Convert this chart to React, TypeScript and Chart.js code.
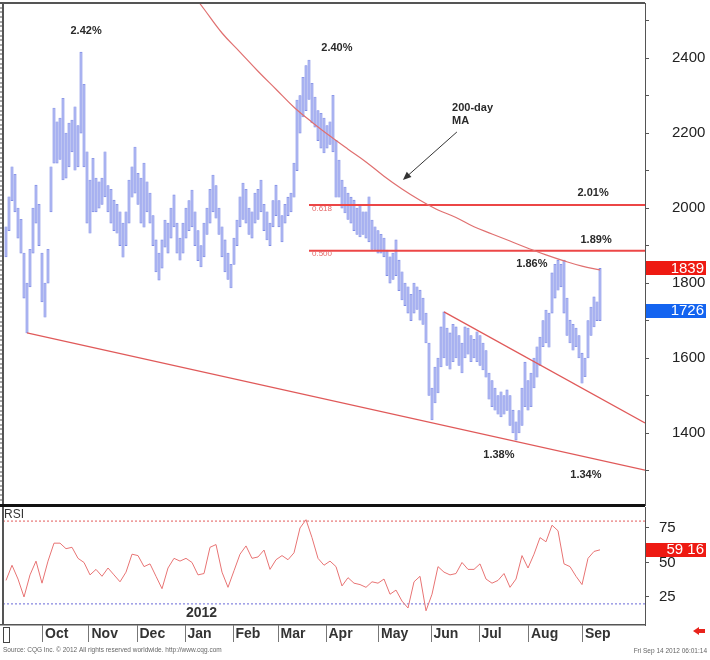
import React, { useEffect, useRef } from 'react';
import { Chart, registerables } from 'chart.js';

Chart.register(...registerables);
Chart.defaults.font.family = "'Liberation Sans', Arial, sans-serif";

// ---- daily price bars (session index 0..198) ----
const highs = [
  1950, 2030, 2110, 2090, 2000, 1970, 1880, 1800, 1890, 2000,
  2061, 2010, 1880, 1800, 1890, 2110, 2267, 2230, 2240, 2293,
  2200, 2227, 2235, 2270, 2220, 2416, 2330, 2150, 2075, 2133,
  2080, 2070, 2080, 2150, 2060, 2050, 2021, 2010, 1990, 1960,
  1990, 2075, 2110, 2163, 2093, 2080, 2120, 2070, 2040, 1980,
  1915, 1880, 1915, 1968, 1960, 2000, 2035, 1960, 1920, 1960,
  2000, 2020, 2048, 1990, 1940, 1900, 1960, 2000, 2050, 2088,
  2060, 2000, 1950, 1915, 1880, 1850, 1920, 1968, 2030, 2067,
  2050, 2000, 1990, 2040, 2050, 2075, 2010, 1990, 1960, 2020,
  2061, 2020, 1980, 2010, 2029, 2040, 2120, 2288, 2300, 2349,
  2380, 2395, 2333, 2296, 2260, 2253, 2240, 2220, 2230, 2301,
  2181, 2128, 2075, 2056, 2040, 2029, 2021, 2000, 2010, 1990,
  1990, 2030, 1968, 1950, 1940, 1930, 1920, 1888, 1870, 1880,
  1915, 1861, 1830, 1800, 1790, 1770, 1800, 1790, 1781, 1760,
  1720, 1640, 1520, 1576, 1600, 1683, 1723, 1680, 1667, 1690,
  1683, 1660, 1640, 1683, 1680, 1660, 1650, 1670, 1660, 1640,
  1620, 1560, 1540, 1520, 1500, 1510, 1500, 1515, 1500, 1461,
  1430, 1460, 1520, 1589, 1540, 1560, 1600, 1630, 1656, 1700,
  1728, 1720, 1827, 1850, 1861, 1850, 1861, 1760, 1701, 1690,
  1680, 1660, 1613, 1600, 1700, 1736, 1763, 1750, 1839,
];
const lows = [
  1870, 1940, 2020, 1990, 1920, 1880, 1760, 1667, 1790, 1880,
  1960, 1900, 1750, 1709, 1800, 1990, 2120, 2120, 2130, 2075,
  2080, 2110, 2150, 2101, 2110, 2200, 2110, 1960, 1933, 1990,
  1990, 2000, 2010, 2030, 1990, 1960, 1940, 1933, 1900, 1869,
  1900, 1960, 2029, 2040, 2010, 1960, 1949, 1990, 1960, 1900,
  1830, 1808, 1840, 1896, 1880, 1920, 1950, 1880, 1861, 1880,
  1920, 1940, 1950, 1900, 1860, 1843, 1870, 1930, 1960, 1990,
  1973, 1930, 1870, 1830, 1810, 1787, 1850, 1900, 1950, 1970,
  1960, 1930, 1920, 1960, 1970, 1990, 1940, 1915, 1900, 1950,
  1980, 1950, 1910, 1960, 1980, 1990, 2029, 2100, 2200, 2243,
  2260, 2290, 2227, 2216, 2180, 2160, 2147, 2160, 2170, 2150,
  2029, 2029, 2000, 1987, 1970, 1960, 1940, 1930, 1923, 1930,
  1920, 1910, 1890, 1890, 1880, 1880, 1870, 1820, 1800, 1810,
  1820, 1780, 1755, 1740, 1720, 1700, 1720, 1730, 1701, 1690,
  1640, 1500, 1435, 1480, 1507, 1576, 1600, 1580, 1570, 1590,
  1600, 1580, 1560, 1600, 1610, 1590, 1600, 1590, 1580, 1568,
  1549, 1490, 1470, 1461, 1450, 1443, 1450, 1460, 1420, 1400,
  1381, 1400, 1420, 1470, 1461, 1470, 1520, 1549, 1580, 1630,
  1640, 1629, 1720, 1760, 1781, 1790, 1720, 1660, 1640, 1621,
  1630, 1600, 1533, 1550, 1600, 1660, 1683, 1700, 1700,
];

// ---- 200-day moving average (read every 6 sessions) ----
const maDays = [60, 66, 72, 78, 84, 90, 96, 102, 108, 114, 120, 126, 132, 138, 144, 150, 156, 162, 168, 174, 180, 186, 192, 198];
const maValues = [2595, 2531, 2467, 2416, 2365, 2317, 2269, 2229, 2192, 2157, 2123, 2085, 2051, 2021, 1995, 1975, 1950, 1931, 1912, 1893, 1875, 1859, 1845, 1835];

// ---- trend lines and retracement levels ----
const lowerTrendDays = [7, 213];
const lowerTrendValues = [1667, 1301];
const upperTrendDays = [146, 213];
const upperTrendValues = [1723, 1427];
const fibDays = [101, 213];
const fib618 = 2008;
const fib500 = 1886;

// ---- RSI (every 2nd session) ----
const rsiValues = [
  37, 48, 38, 25, 41, 51, 35, 51, 64, 64,
  60, 61, 53, 50, 41, 45, 40, 46, 41, 36,
  43, 56, 55, 47, 49, 40, 31, 46, 53, 51,
  53, 50, 41, 42, 61, 63, 43, 32, 44, 56,
  62, 53, 54, 59, 45, 52, 55, 52, 57, 75,
  81, 68, 53, 48, 51, 47, 33, 39, 35, 34,
  32, 36, 35, 38, 27, 30, 22, 17, 36, 40,
  15, 27, 47, 43, 41, 42, 50, 45, 45, 49,
  38, 35, 37, 42, 32, 38, 55, 46, 56, 68,
  65, 77, 73, 49, 47, 40, 34, 53, 58, 59.16,
];
const rsiUpper = 80;
const rsiLower = 20;

// ---- axes ----
const dayMin = -1;
const dayMax = 213;
const priceMin = 1208;
const priceMax = 2547;
const rsiMin = 4.7;
const rsiMax = 90.2;
const monthLabels = ['Oct', 'Nov', 'Dec', 'Jan', 'Feb', 'Mar', 'Apr', 'May', 'Jun', 'Jul', 'Aug', 'Sep'];
const monthStarts = [12, 27.5, 43.5, 59.5, 75.5, 90.5, 106.5, 124, 141.5, 157.5, 174, 192];
const yearLabel = '2012';

// ---- annotations ----
const annoTexts = ['2.42%', '2.40%', '2.01%', '1.89%', '1.86%', '1.38%', '1.34%'];
const annoDays = [26.7, 110.3, 195.7, 196.7, 175.3, 164.3, 193.3];
const annoPrices = [2472, 2427, 2040, 1915, 1851, 1341, 1288];
const maNoteLines = ['200-day', 'MA'];
const maNoteDay = 148.7;
const maNotePrices = [2267, 2232];
const arrowFrom = { day: 150.3, price: 2203 };
const arrowTo = { day: 132.3, price: 2075 };
const fibTexts = ['0.618', '0.500'];
const fibTextDay = 102;
const fibTextPrices = [1997, 1877];

const lastHigh = 1839;
const lastClose = 1726;
const lastRsi = 59.16;
const lastHighText = '1839';
const lastCloseText = '1726';
const lastRsiText = '59 16';
const sourceText = 'Source: CQG Inc. \u00a9 2012 All rights reserved worldwide. http://www.cqg.com';
const stampText = 'Fri Sep 14 2012 06:01:14';

const FONT = "'Liberation Sans', Arial, sans-serif";

function drawFlag(ctx: CanvasRenderingContext2D, left: number, right: number, yc: number, color: string, text: string) {
  ctx.fillStyle = color;
  ctx.fillRect(left, Math.round(yc - 7), right - left, 14);
  ctx.fillStyle = '#ffffff';
  ctx.font = `15px ${FONT}`;
  ctx.textAlign = 'right';
  ctx.textBaseline = 'middle';
  ctx.fillText(text, right - 2, yc + 0.5);
}

const noAxisPadding = (s: any) => {
  s.width = 65;
  s.paddingTop = 0;
  s.paddingBottom = 0;
};

const priceOverlay = {
  id: 'priceOverlay',
  afterDatasetsDraw(chart: any) {
    const { ctx, scales } = chart;
    const x = scales.x;
    const y = scales.y;
    ctx.save();
    ctx.fillStyle = '#2a2a2a';
    ctx.font = `bold 11px ${FONT}`;
    ctx.textAlign = 'center';
    ctx.textBaseline = 'middle';
    annoTexts.forEach((t, k) => {
      ctx.fillText(t, x.getPixelForValue(annoDays[k]), y.getPixelForValue(annoPrices[k]));
    });
    ctx.textAlign = 'left';
    maNoteLines.forEach((t, k) => {
      ctx.fillText(t, x.getPixelForValue(maNoteDay), y.getPixelForValue(maNotePrices[k]));
    });
    // arrow
    const x1 = x.getPixelForValue(arrowFrom.day);
    const y1 = y.getPixelForValue(arrowFrom.price);
    const x2 = x.getPixelForValue(arrowTo.day);
    const y2 = y.getPixelForValue(arrowTo.price);
    const ang = Math.atan2(y2 - y1, x2 - x1);
    ctx.strokeStyle = '#333';
    ctx.lineWidth = 1;
    ctx.beginPath();
    ctx.moveTo(x1, y1);
    ctx.lineTo(x2 - Math.cos(ang) * 4, y2 - Math.sin(ang) * 4);
    ctx.stroke();
    ctx.fillStyle = '#333';
    ctx.beginPath();
    ctx.moveTo(x2, y2);
    ctx.lineTo(x2 - Math.cos(ang - 0.4) * 9, y2 - Math.sin(ang - 0.4) * 9);
    ctx.lineTo(x2 - Math.cos(ang + 0.4) * 9, y2 - Math.sin(ang + 0.4) * 9);
    ctx.closePath();
    ctx.fill();
    // fib labels
    ctx.fillStyle = '#e56a6a';
    ctx.font = `8px ${FONT}`;
    ctx.textAlign = 'left';
    fibTexts.forEach((t, k) => {
      ctx.fillText(t, x.getPixelForValue(fibTextDay), y.getPixelForValue(fibTextPrices[k]));
    });
    ctx.restore();
  },
  afterDraw(chart: any) {
    const { ctx, chartArea: a, scales } = chart;
    const y = scales.y;
    ctx.save();
    // frame
    ctx.fillStyle = '#555';
    ctx.fillRect(0, a.top - 1, a.right, 2);
    ctx.fillRect(a.left - 1, a.top - 1, 2, a.bottom - a.top + 1);
    for (let v = 1225; v < priceMax; v += 12.5) {
      const py = Math.round(y.getPixelForValue(v)) + 0.5;
      ctx.fillRect(0, py, 3, 1);
    }
    ctx.fillStyle = '#111';
    ctx.fillRect(0, a.bottom - 1, a.right, 3);
    // last price flags
    drawFlag(ctx, a.right + 1, 706, y.getPixelForValue(lastHigh), '#ee1a12', lastHighText);
    drawFlag(ctx, a.right + 1, 706, y.getPixelForValue(lastClose), '#1464f0', lastCloseText);
    ctx.restore();
  },
};

const rsiOverlay = {
  id: 'rsiOverlay',
  afterDraw(chart: any) {
    const { ctx, chartArea: a, scales } = chart;
    const x = scales.x;
    const y = scales.y;
    ctx.save();
    ctx.fillStyle = '#333';
    ctx.font = `12px ${FONT}`;
    ctx.textAlign = 'left';
    ctx.textBaseline = 'top';
    ctx.fillText('RSI', a.left + 1, a.top + 2);
    // frame
    ctx.fillStyle = '#555';
    ctx.fillRect(a.left - 1, a.top, 2, a.bottom - a.top);
    ctx.fillRect(0, a.bottom - 1, a.right, 1.5);
    // month axis
    ctx.fillStyle = '#777';
    monthStarts.forEach((d) => {
      const px = Math.round(x.getPixelForValue(d));
      ctx.fillRect(px, a.bottom, 1, 17);
    });
    ctx.strokeStyle = '#444';
    ctx.lineWidth = 1;
    ctx.strokeRect(3.5, a.bottom + 2.5, 6, 15);
    ctx.fillStyle = '#333';
    ctx.font = `bold 14px ${FONT}`;
    ctx.textBaseline = 'middle';
    monthLabels.forEach((m, k) => {
      const px = x.getPixelForValue(monthStarts[k]);
      ctx.fillText(m, px + 3, a.bottom + 9);
    });
    // year label beneath January
    ctx.textAlign = 'center';
    ctx.fillText(yearLabel, x.getPixelForValue(monthStarts[3]) + 17, a.bottom - 12);
    // rsi flag
    drawFlag(ctx, a.right + 1, 706, y.getPixelForValue(lastRsi), '#ee1a12', lastRsiText);
    // red arrow icon
    ctx.fillStyle = '#e8231c';
    ctx.beginPath();
    ctx.moveTo(693, a.bottom + 6);
    ctx.lineTo(699, a.bottom + 2);
    ctx.lineTo(699, a.bottom + 4);
    ctx.lineTo(705, a.bottom + 4);
    ctx.lineTo(705, a.bottom + 8);
    ctx.lineTo(699, a.bottom + 8);
    ctx.lineTo(699, a.bottom + 10);
    ctx.closePath();
    ctx.fill();
    // footer
    ctx.fillStyle = '#666';
    ctx.font = `6.5px ${FONT}`;
    ctx.textAlign = 'left';
    ctx.fillText(sourceText, 3, a.bottom + 25);
    ctx.textAlign = 'right';
    ctx.fillText(stampText, 707, a.bottom + 26);
    ctx.restore();
  },
};

export default function App() {
  const priceRef = useRef<HTMLCanvasElement>(null);
  const rsiRef = useRef<HTMLCanvasElement>(null);

  useEffect(() => {
    const barData = highs.map((h, i) => ({ x: i, y: [lows[i], h] }));
    const priceChart = new Chart(priceRef.current as HTMLCanvasElement, {
      type: 'bar',
      data: {
        datasets: [
          {
            type: 'line',
            data: maDays.map((d, k) => ({ x: d, y: maValues[k] })),
            borderColor: '#e07070',
            borderWidth: 1.2,
            pointRadius: 0,
            tension: 0.4,
            order: 1,
          } as any,
          {
            type: 'line',
            data: lowerTrendDays.map((d, k) => ({ x: d, y: lowerTrendValues[k] })),
            borderColor: '#e05a5a',
            borderWidth: 1.3,
            pointRadius: 0,
            order: 1,
          },
          {
            type: 'line',
            data: upperTrendDays.map((d, k) => ({ x: d, y: upperTrendValues[k] })),
            borderColor: '#e05a5a',
            borderWidth: 1.3,
            pointRadius: 0,
            order: 1,
          },
          {
            type: 'line',
            data: fibDays.map((d) => ({ x: d, y: fib618 })),
            borderColor: '#ec4646',
            borderWidth: 2,
            pointRadius: 0,
            order: 1,
          },
          {
            type: 'line',
            data: fibDays.map((d) => ({ x: d, y: fib500 })),
            borderColor: '#ec4646',
            borderWidth: 2,
            pointRadius: 0,
            order: 1,
          },
          {
            type: 'bar',
            data: barData,
            backgroundColor: '#aab3f2',
            borderColor: '#7483e2',
            borderWidth: 0.6,
            barThickness: 2.4,
            borderSkipped: false,
            order: 2,
          } as any,
        ],
      },
      options: {
        animation: false,
        responsive: false,
        maintainAspectRatio: false,
        layout: { padding: { left: 3, top: 3, right: 0, bottom: 2 } },
        plugins: { legend: { display: false }, tooltip: { enabled: false } },
        scales: {
          x: { type: 'linear', min: dayMin, max: dayMax, display: false, offset: false },
          y: {
            position: 'right',
            min: priceMin,
            max: priceMax,
            afterFit: noAxisPadding,
            ticks: {
              stepSize: 100,
              includeBounds: false,
              autoSkip: false,
              color: '#222',
              padding: 23,
              font: { size: 15, family: FONT },
              callback: (v: any) => (Number(v) % 200 === 0 ? String(v) : ''),
            },
            grid: { drawOnChartArea: false, drawTicks: true, tickLength: 4, color: '#555' },
            border: { display: true, color: '#555', width: 1 },
          },
        },
      } as any,
      plugins: [priceOverlay],
    });

    const rsiChart = new Chart(rsiRef.current as HTMLCanvasElement, {
      type: 'line',
      data: {
        datasets: [
          {
            data: rsiValues.map((v, k) => ({ x: k * 2, y: v })),
            borderColor: '#e87474',
            borderWidth: 1,
            pointRadius: 0,
            tension: 0,
          },
          {
            data: [{ x: dayMin, y: rsiUpper }, { x: dayMax, y: rsiUpper }],
            borderColor: '#e25a5a',
            borderWidth: 1,
            borderDash: [2, 2],
            pointRadius: 0,
          },
          {
            data: [{ x: dayMin, y: rsiLower }, { x: dayMax, y: rsiLower }],
            borderColor: '#6a6ad8',
            borderWidth: 1,
            borderDash: [2, 2],
            pointRadius: 0,
          },
        ],
      },
      options: {
        animation: false,
        responsive: false,
        maintainAspectRatio: false,
        layout: { padding: { left: 3, top: 0, right: 0, bottom: 35 } },
        plugins: { legend: { display: false }, tooltip: { enabled: false } },
        scales: {
          x: { type: 'linear', min: dayMin, max: dayMax, display: false },
          y: {
            position: 'right',
            min: rsiMin,
            max: rsiMax,
            afterFit: noAxisPadding,
            ticks: {
              stepSize: 25,
              includeBounds: false,
              color: '#222',
              padding: 10,
              font: { size: 15, family: FONT },
            },
            grid: { drawOnChartArea: false, drawTicks: true, tickLength: 4, color: '#555' },
            border: { display: true, color: '#555', width: 1 },
          },
        },
      } as any,
      plugins: [rsiOverlay],
    });

    return () => {
      priceChart.destroy();
      rsiChart.destroy();
    };
  }, []);

  return (
    <div style={{ position: 'fixed', left: 0, top: 0, width: 710, height: 660, background: '#fff' }}>
      <canvas ref={priceRef} width={710} height={507} style={{ position: 'absolute', left: 0, top: 0, width: 710, height: 507 }} />
      <canvas ref={rsiRef} width={710} height={153} style={{ position: 'absolute', left: 0, top: 507, width: 710, height: 153 }} />
    </div>
  );
}
